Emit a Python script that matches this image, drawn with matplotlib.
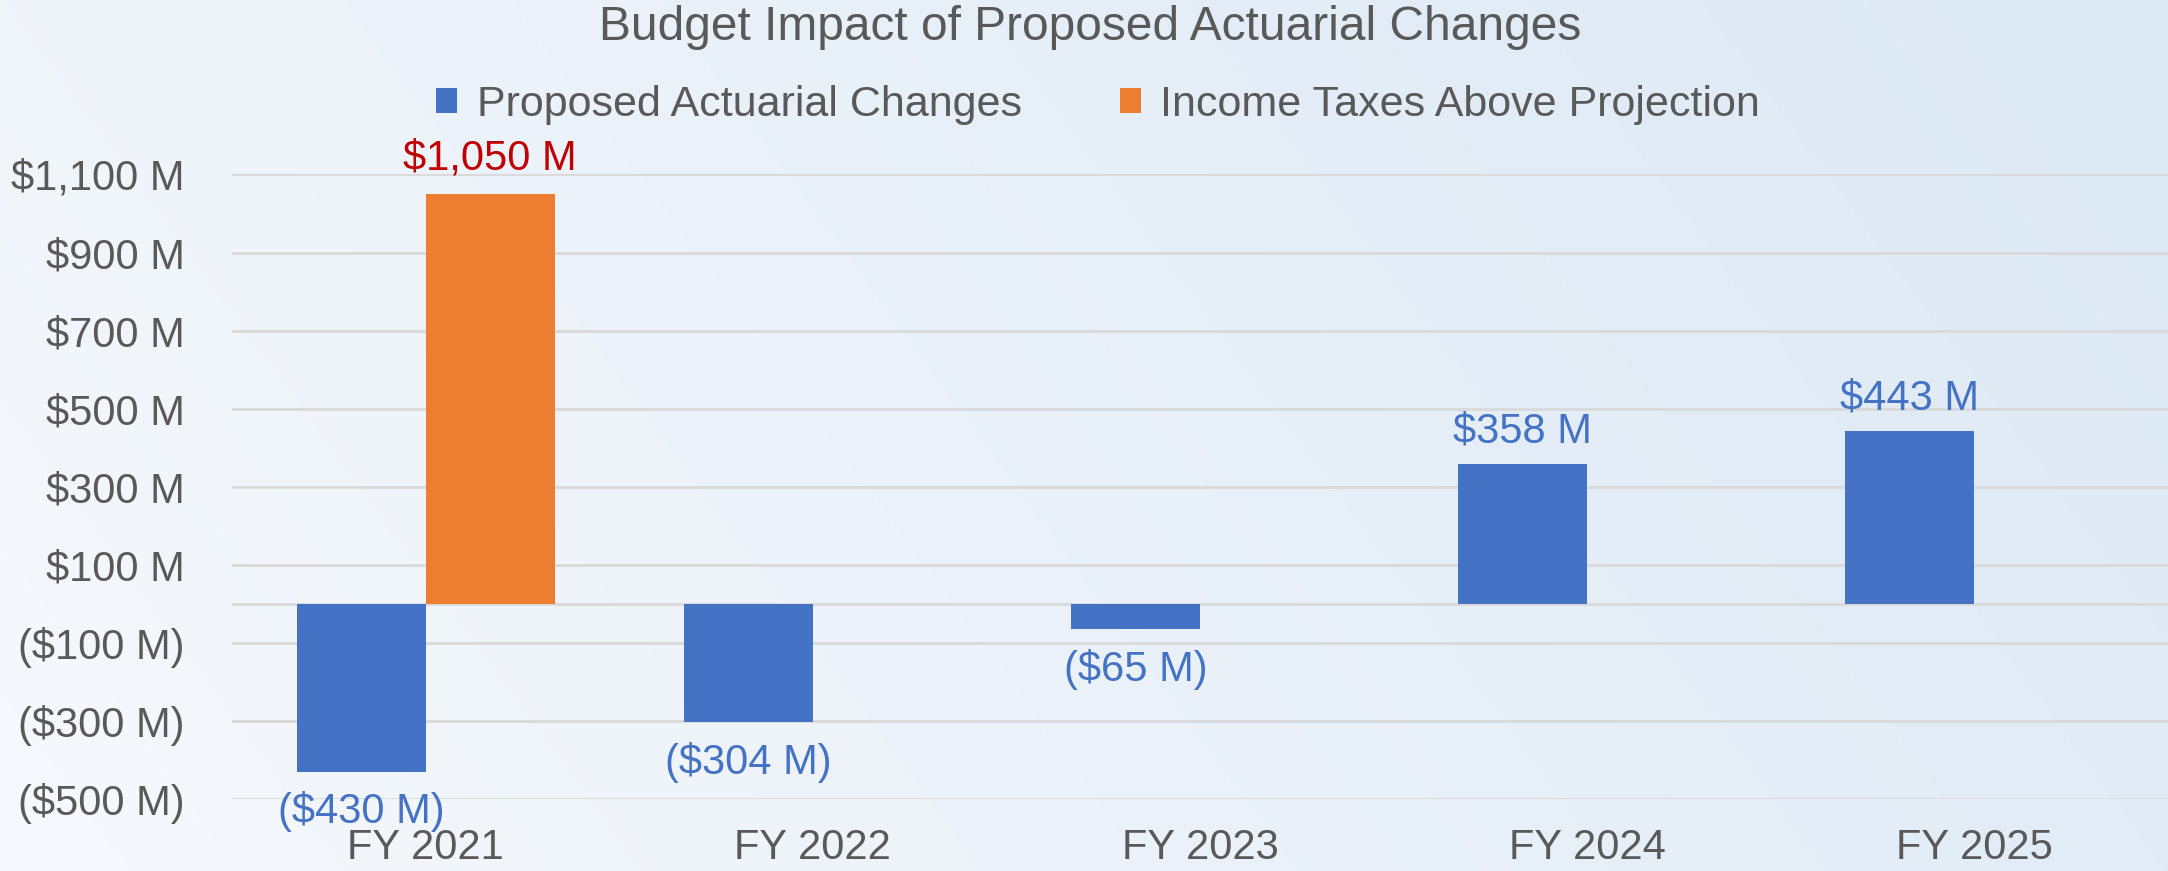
import numpy as np
import matplotlib
matplotlib.use("Agg")
import matplotlib.pyplot as plt

plt.rcParams["font.family"] = ["Liberation Sans", "DejaVu Sans"]

# data
years = ["FY 2021", "FY 2022", "FY 2023", "FY 2024", "FY 2025"]
actuarial = [-430, -304, -65, 358, 443]
income_taxes = [1050, None, None, None, None]
series_names = ["Proposed Actuarial Changes", "Income Taxes Above Projection"]
yticks = [-500, -300, -100, 100, 300, 500, 700, 900, 1100]

blue = "#4472C4"
orange = "#ED7D31"
red = "#C00000"
grey_text = "#595959"
grid_col = "#D9D9D9"


def money(v):
    s = "${:,.0f} M".format(abs(v))
    return "(" + s + ")" if v < 0 else s


fig = plt.figure(figsize=(21.68, 8.71), dpi=100)

# gradient background
bg = fig.add_axes([0, 0, 1, 1], zorder=-10)
xx, yy = np.meshgrid(np.linspace(0, 1, 400), np.linspace(0, 1, 200))
t = np.clip(0.85 * xx + 0.25 * (1 - yy) - 0.05, 0, 1)
c0 = np.array([245, 248, 252]) / 255
c1 = np.array([221, 233, 245]) / 255
img = c0[None, None, :] * (1 - t[..., None]) + c1[None, None, :] * t[..., None]
bg.imshow(img, aspect="auto", extent=[0, 1, 0, 1], origin="upper")
bg.axis("off")

ax = fig.add_axes([0.107, 0.0827, 0.893, 0.717])
ax.patch.set_alpha(0)

x = np.arange(len(years))
w = 1 / 3
b1 = ax.bar(x - w / 2, actuarial, width=w, color=blue, label=series_names[0], zorder=3)
tax_vals = [v if v is not None else 0 for v in income_taxes]
b2 = ax.bar(x + w / 2, tax_vals, width=w, color=orange, label=series_names[1], zorder=3)

for xi, v in zip(x, actuarial):
    ax.annotate(money(v), (xi - w / 2, v), textcoords="offset points",
                xytext=(0, 9 if v > 0 else -14), ha="center",
                va="bottom" if v > 0 else "top", color=blue, fontsize=30)
for xi, v in zip(x, income_taxes):
    if v is not None:
        ax.annotate(money(v), (xi + w / 2, v), textcoords="offset points",
                    xytext=(0, 11), ha="center", va="bottom", color=red, fontsize=30)

ax.set_xlim(-0.5, len(years) - 0.5)
ax.set_ylim(-500, 1100)
ax.set_yticks(yticks)
ax.set_yticklabels([money(v) for v in yticks])
ax.set_xticks(x)
ax.set_xticklabels(years)
ax.tick_params(axis="both", length=0, labelsize=30, labelcolor=grey_text)
ax.tick_params(axis="y", pad=34)
ax.tick_params(axis="x", pad=21)
ax.grid(axis="y", color=grid_col, linewidth=2, zorder=0)
ax.axhline(0, color=grid_col, linewidth=2, zorder=1)
for s in ax.spines.values():
    s.set_visible(False)

fig.text(0.503, 0.968, "Budget Impact of Proposed Actuarial Changes", ha="center",
         va="center", fontsize=34.5, color=grey_text)
fig.legend(handles=[b1, b2], loc="center", bbox_to_anchor=(0.5065, 0.88), ncol=2,
           frameon=False, fontsize=31, labelcolor=grey_text, handlelength=0.5,
           handleheight=0.5, handletextpad=0.45, columnspacing=2.27)

fig.savefig("out.png", dpi=100)
